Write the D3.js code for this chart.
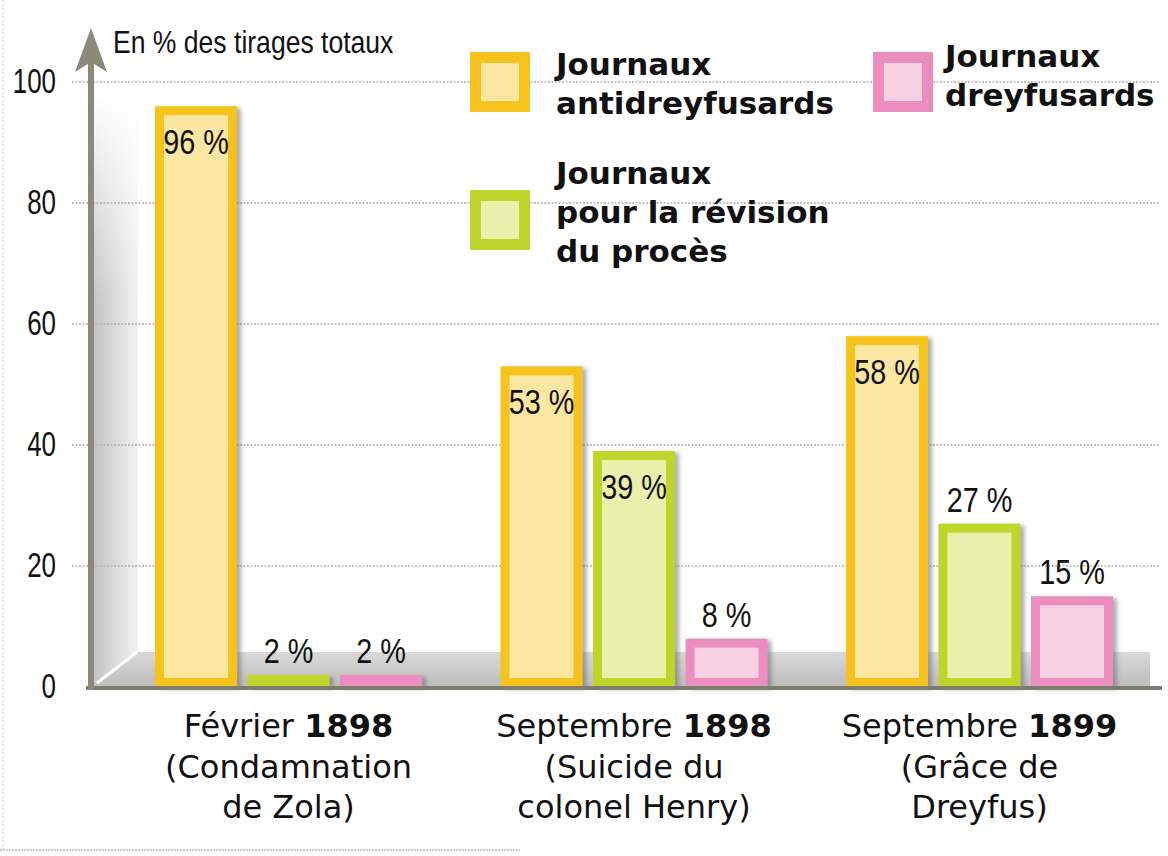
<!DOCTYPE html>
<html>
<head>
<meta charset="utf-8">
<script src="https://cdn.jsdelivr.net/npm/d3@7"></script>
<style>
  html, body { margin: 0; padding: 0; background: #ffffff; }
  svg { display: block; }
</style>
</head>
<body>
<svg id="chart" width="1168" height="856"></svg>
<script>
// ---- Data ----
const categories = ["Février 1898", "Septembre 1898", "Septembre 1899"];
const categoryMonths = ["Février", "Septembre", "Septembre"];
const categoryYears = ["1898", "1898", "1899"];
const categoryEvents = [["(Condamnation", "de Zola)"], ["(Suicide du", "colonel Henry)"], ["(Grâce de", "Dreyfus)"]];
const seriesKeys = ["anti", "revision", "dreyfusards"];
const antiValues = [96, 53, 58];
const revisionValues = [2, 39, 27];
const dreyfusardValues = [2, 8, 15];
const yTicks = [0, 20, 40, 60, 80, 100];
const yTitle = "En % des tirages totaux";
const legendLabels = {
  anti: ["Journaux", "antidreyfusards"],
  revision: ["Journaux", "pour la révision", "du procès"],
  dreyfusards: ["Journaux", "dreyfusards"]
};

// ---- Styles ----
const colors = {
  anti: { border: "#f6c21e", fill: "#fbe6a2" },
  revision: { border: "#bed62c", fill: "#e8f0ab" },
  dreyfusards: { border: "#ec8dbf", fill: "#f7d0e2" }
};
const valuesByKey = { anti: antiValues, revision: revisionValues, dreyfusards: dreyfusardValues };

const svg = d3.select("#chart");
const defs = svg.append("defs");

const shadow = defs.append("filter").attr("id", "shadow").attr("x", "-20%").attr("y", "-20%").attr("width", "150%").attr("height", "150%");
shadow.append("feDropShadow").attr("dx", 4).attr("dy", 2).attr("stdDeviation", 2)
  .attr("flood-color", "#6a6a6a").attr("flood-opacity", 0.55);

const wallGrad = defs.append("linearGradient").attr("id", "wallGrad").attr("x1", "0").attr("x2", "1").attr("y1", "0").attr("y2", "0");
wallGrad.append("stop").attr("offset", "0%").attr("stop-color", "#c4c4c4");
wallGrad.append("stop").attr("offset", "100%").attr("stop-color", "#f2f2f2");
const wallFade = defs.append("linearGradient").attr("id", "wallFade").attr("x1", "0").attr("x2", "0").attr("y1", "0").attr("y2", "1");
wallFade.append("stop").attr("offset", "0%").attr("stop-color", "#fff").attr("stop-opacity", 1);
wallFade.append("stop").attr("offset", "35%").attr("stop-color", "#fff").attr("stop-opacity", 0);
const floorGrad = defs.append("linearGradient").attr("id", "floorGrad").attr("x1", "0").attr("x2", "0").attr("y1", "0").attr("y2", "1");
floorGrad.append("stop").attr("offset", "0%").attr("stop-color", "#d9d9d9");
floorGrad.append("stop").attr("offset", "100%").attr("stop-color", "#bcbcbc");

// ---- Scales ----
const y = d3.scaleLinear().domain([0, 100]).range([687, 82]);
const x0 = d3.scaleBand().domain(categories).range([155, 1113]).paddingInner(0.227).paddingOuter(0);
const x1 = d3.scaleBand().domain(seriesKeys).range([0, x0.bandwidth()]).paddingInner(0.1135).paddingOuter(0);

const axisX = 91;
const gridLeft = 72, gridRight = 1160;

// ---- 3D wall & floor ----
svg.append("rect").attr("x", axisX + 3).attr("y", y(100) + 10).attr("width", 44).attr("height", y(0) - y(100) - 10)
  .attr("fill", "url(#wallGrad)");
svg.append("rect").attr("x", axisX + 3).attr("y", y(100) + 10).attr("width", 44).attr("height", y(0) - y(100) - 10)
  .attr("fill", "url(#wallFade)");
svg.append("polygon")
  .attr("points", [[axisX + 3, y(0)], [axisX + 46, y(0) - 35], [1150, y(0) - 35], [1150, y(0)]].map(p => p.join(",")).join(" "))
  .attr("fill", "url(#floorGrad)");
svg.append("line").attr("x1", axisX + 6).attr("y1", y(0) - 4).attr("x2", axisX + 46).attr("y2", y(0) - 35)
  .attr("stroke", "#ffffff").attr("stroke-width", 3);

// ---- Gridlines ----
svg.append("g").selectAll("line").data(yTicks.filter(t => t > 0)).join("line")
  .attr("x1", gridLeft).attr("x2", gridRight)
  .attr("y1", d => y(d)).attr("y2", d => y(d))
  .attr("stroke", "#b3adad").attr("stroke-width", 1.3).attr("stroke-dasharray", "2,1.5");

// ---- Y axis labels via d3 axis ----
const yAxis = d3.axisLeft(y).tickValues(yTicks).tickSize(0).tickPadding(0);
const yAxisG = svg.append("g").attr("transform", "translate(56,0)").call(yAxis);
yAxisG.select(".domain").remove();
yAxisG.selectAll(".tick text")
  .attr("x", 0).attr("dy", null).attr("y", 10)
  .attr("fill", "#111")
  .style("font-family", "'Liberation Sans', Arial, sans-serif")
  .style("font-size", "36px")
  .attr("text-anchor", "end")
  .attr("transform", "scale(0.72,1)");

// ---- Bars ----
const groups = svg.append("g").selectAll("g").data(categories).join("g")
  .attr("transform", d => `translate(${x0(d)},0)`);

const barData = (c, i) => seriesKeys.map(k => ({ key: k, value: valuesByKey[k][i], cat: c }));
const bw = x1.bandwidth();
const border = 9;

groups.each(function (c, i) {
  const g = d3.select(this);
  const bars = g.selectAll("g.bar").data(barData(c, i)).join("g").attr("class", "bar");
  bars.append("rect")
    .attr("x", d => x1(d.key)).attr("y", d => y(d.value))
    .attr("width", bw).attr("height", d => y(0) - y(d.value))
    .attr("fill", d => colors[d.key].border)
    .attr("filter", "url(#shadow)");
  bars.filter(d => y(0) - y(d.value) > 2 * border + 2).append("rect")
    .attr("x", d => x1(d.key) + border).attr("y", d => y(d.value) + border)
    .attr("width", bw - 2 * border).attr("height", d => y(0) - y(d.value) - 2 * border)
    .attr("fill", d => colors[d.key].fill);
  bars.append("g")
    .attr("transform", d => {
      const inside = d.value > 30;
      const ty = inside ? y(d.value) + 48 : y(d.value) - 12;
      return `translate(${x1(d.key) + bw / 2},${ty}) scale(0.8,1)`;
    })
    .append("text")
    .attr("text-anchor", "middle")
    .style("font-family", "'Liberation Sans', Arial, sans-serif")
    .style("font-size", "36px")
    .attr("fill", "#111")
    .text(d => `${d.value} %`);
});

// ---- Baseline & axis arrow ----
svg.append("line").attr("x1", 86).attr("x2", 1162).attr("y1", y(0) + 1).attr("y2", y(0) + 1)
  .attr("stroke", "#7e7c6e").attr("stroke-width", 4);
svg.append("line").attr("x1", axisX).attr("x2", axisX).attr("y1", y(0) + 3).attr("y2", 55)
  .attr("stroke", "#8b8a78").attr("stroke-width", 6);
svg.append("polygon")
  .attr("points", [[axisX, 28], [axisX + 16, 72], [axisX, 62], [axisX - 16, 72]].map(p => p.join(",")).join(" "))
  .attr("fill", "#8b8a78");

// ---- Y title ----
svg.append("g").attr("transform", "translate(113,53) scale(0.83,1)")
  .append("text")
  .style("font-family", "'Liberation Sans', Arial, sans-serif")
  .style("font-size", "32px")
  .attr("fill", "#111")
  .text(yTitle);

// ---- Category labels ----
const catFont = "'DejaVu Sans', Verdana, sans-serif";
const catG = svg.append("g").selectAll("g").data(categories).join("g")
  .attr("transform", d => `translate(${x0(d) + x0.bandwidth() / 2},0)`);
catG.each(function (c, i) {
  const g = d3.select(this);
  const t1 = g.append("text").attr("y", 737).attr("text-anchor", "middle")
    .style("font-family", catFont).style("font-size", "32px").attr("fill", "#111");
  t1.append("tspan").text(categoryMonths[i] + " ");
  t1.append("tspan").style("font-weight", "bold").text(categoryYears[i]);
  categoryEvents[i].forEach((line, j) => {
    g.append("text").attr("y", 778 + j * 40).attr("text-anchor", "middle")
      .style("font-family", catFont).style("font-size", "32px").attr("fill", "#111")
      .text(line);
  });
});

// ---- Legend ----
const legendItems = [
  { key: "anti", sx: 470, sy: 52, tx: 556, ty: 75 },
  { key: "revision", sx: 470, sy: 190, tx: 556, ty: 184 },
  { key: "dreyfusards", sx: 873, sy: 52, tx: 945, ty: 67 }
];
const lg = svg.append("g").selectAll("g").data(legendItems).join("g");
lg.append("rect").attr("x", d => d.sx).attr("y", d => d.sy).attr("width", 60).attr("height", 60)
  .attr("fill", d => colors[d.key].border);
lg.append("rect").attr("x", d => d.sx + 11).attr("y", d => d.sy + 11).attr("width", 38).attr("height", 38)
  .attr("fill", d => colors[d.key].fill);
lg.each(function (d) {
  const g = d3.select(this);
  legendLabels[d.key].forEach((line, j) => {
    g.append("text").attr("x", d.tx).attr("y", d.ty + j * 39)
      .style("font-family", "'DejaVu Sans', Verdana, sans-serif")
      .style("font-size", "31px").style("font-weight", "bold")
      .attr("fill", "#111").text(line);
  });
});

// ---- page edge ----
svg.append("line").attr("x1", 0).attr("x2", 520).attr("y1", 850).attr("y2", 850)
  .attr("stroke", "#9a9a9a").attr("stroke-width", 1).attr("stroke-dasharray", "2,1");
svg.append("line").attr("x1", 3).attr("x2", 3).attr("y1", 0).attr("y2", 850)
  .attr("stroke", "#cfcfcf").attr("stroke-width", 1).attr("stroke-dasharray", "2,2");
</script>
</body>
</html>
